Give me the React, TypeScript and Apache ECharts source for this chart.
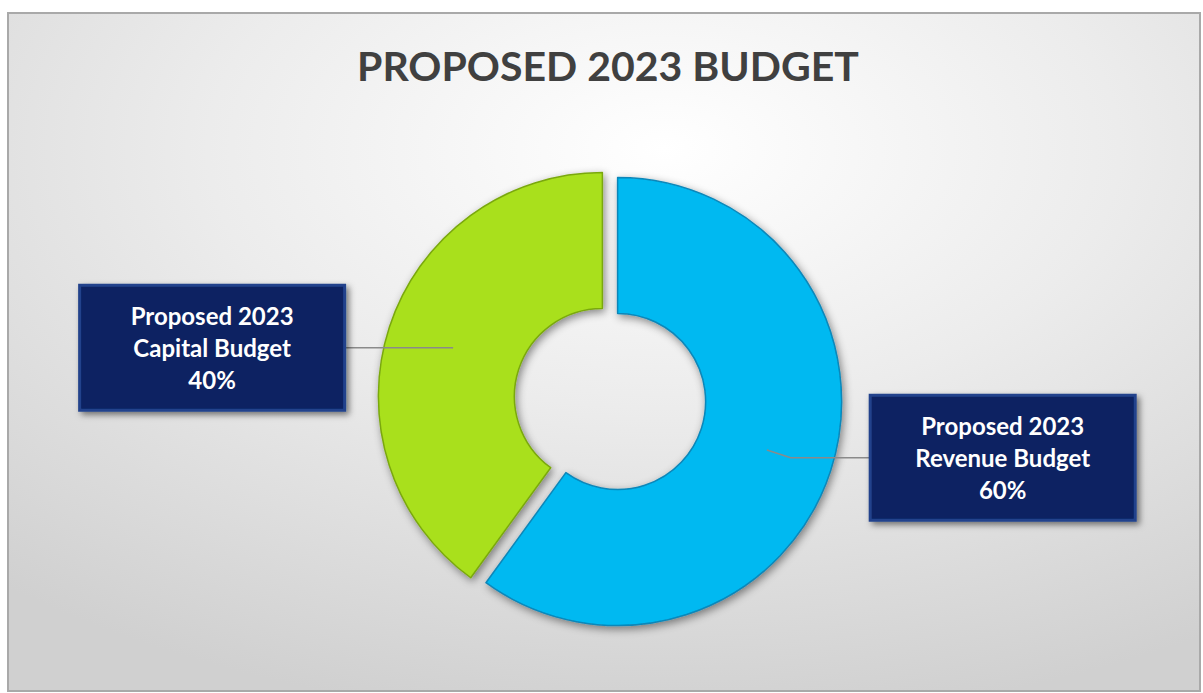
import React, { useEffect, useRef } from "react";
import * as echarts from "echarts";

const TITLE = "PROPOSED 2023 BUDGET";
const categories = ["Proposed 2023 Revenue Budget", "Proposed 2023 Capital Budget"];
const shares = [60, 40];
const sliceColors = ["#00b9f1", "#a9e01b"];
const sliceEdges = ["#0a86b8", "#7aa80e"];

export default function App() {
  const ref = useRef<HTMLDivElement>(null);
  useEffect(() => {
    if (!ref.current) return;
    const chart = echarts.init(ref.current, undefined, { renderer: "svg" });
    const center = [610, 399];
    const ringData = categories.map((name, i) => ({
      name,
      value: shares[i],
      selected: true,
      itemStyle: { color: sliceColors[i], borderColor: sliceEdges[i] },
    }));
    const labelLens = [
      { length: 25, length2: 81 },
      { length: 1, length2: 109 },
    ];
    const labelData = categories.map((name, i) => ({
      name,
      value: shares[i],
      selected: true,
      labelLine: labelLens[i],
    }));
    chart.setOption({
      animation: false,
      title: {
        text: TITLE,
        left: 352,
        top: 40,
        textStyle: {
          fontFamily: "Lato",
          fontWeight: "bold",
          fontSize: 41,
          color: "#404040",
        },
      },
      graphic: [
        {
          type: "rect",
          z: -10,
          shape: { x: 8, y: 13, width: 1192, height: 678 },
          style: {
            fill: new echarts.graphic.RadialGradient(0.55, 0.2, 0.85, [
              { offset: 0, color: "#ffffff" },
              { offset: 0.45, color: "#ececec" },
              { offset: 1, color: "#d0d0d0" },
            ]),
            stroke: "#a9a9a9",
            lineWidth: 2,
          },
        },
      ],
      series: [
        {
          type: "pie",
          z: 2,
          center,
          radius: [88, 224],
          selectedMode: "multiple",
          selectedOffset: 8,
          silent: true,
          label: { show: false },
          labelLine: { show: false },
          itemStyle: {
            borderWidth: 1.5,
            shadowBlur: 8,
            shadowColor: "rgba(0,0,0,0.45)",
            shadowOffsetX: 2,
            shadowOffsetY: 3,
          },
          data: ringData,
        },
        {
          type: "pie",
          z: 6,
          center,
          radius: [0, 157],
          selectedMode: "multiple",
          selectedOffset: 8,
          silent: true,
          avoidLabelOverlap: false,
          itemStyle: { color: "rgba(0,0,0,0)" },
          labelLine: {
            show: true,
            lineStyle: { color: "#8a8a8a", width: 1.5 },
          },
          label: {
            show: true,
            position: "outside",
            distanceToLabelLine: 0,
            formatter: (p: any) => {
              const parts = String(p.name).replace("2023 ", "2023\n").split("\n");
              return parts.map((s: string) => `{t|${s}}`).join("\n") + `\n{t|${Math.round(p.percent)}%}`;
            },
            width: 226,
            padding: [13, 18],
            backgroundColor: "#0a2362",
            borderColor: "#23438c",
            borderWidth: 3,
            shadowColor: "rgba(0,0,0,0.5)",
            shadowBlur: 6,
            shadowOffsetX: 3,
            shadowOffsetY: 3,
            rich: {
              t: {
                align: "center",
                color: "#ffffff",
                fontFamily: "Lato",
                fontWeight: "bold",
                fontSize: 24,
                lineHeight: 32,
              },
            },
          },
          data: labelData,
        },
      ],
    });
    return () => chart.dispose();
  }, []);
  return (
    <div
      ref={ref}
      style={{ position: "absolute", left: 0, top: 0, width: 1203, height: 693, background: "#ffffff" }}
    />
  );
}
